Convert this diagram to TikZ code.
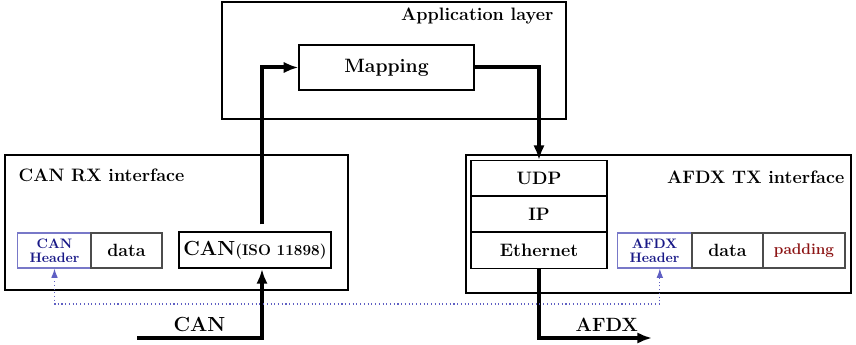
\documentclass[tikz,border=0pt]{standalone}
\usetikzlibrary{positioning, arrows.meta, calc}
\definecolor{hdrblue}{RGB}{25,25,135}
\definecolor{hdredge}{RGB}{120,120,200}
\definecolor{busblue}{RGB}{95,95,195}
\definecolor{padred}{RGB}{140,20,20}
\newcommand{\fsz}[1]{\fontsize{#1}{#1}\selectfont}
\begin{document}
\begin{tikzpicture}[
                x=0.75pt, y=-0.75pt,
                >={Latex[length=11pt,width=8.5pt]},
                font=\bfseries\fsz{13.5},
                area/.style={draw, line width=0.9pt, rectangle},
                stack/.style={draw, line width=1.1pt, rectangle, minimum width=102pt, minimum height=26.6pt, inner sep=0pt, font=\bfseries\fsz{13.5}},
                field/.style={draw=black!70, line width=0.8pt, rectangle, minimum height=26.25pt, inner sep=0pt, font=\bfseries\fsz{13.3}},
                header/.style={field, draw=hdredge, text=hdrblue, font=\bfseries\fontsize{10.3}{10.5}\selectfont, align=center, minimum width=55pt},
                flow/.style={line width=3pt},
                bus/.style={draw=busblue, dotted, line width=0.8pt, >={Latex[length=7pt,width=5pt]}},
            ]
                \useasboundingbox (0,0) rectangle (856,345);

                % Draw the application layer
                \node[area, minimum width=258pt, minimum height=87.75pt] (app) at (394,60.5) {};
                \node[anchor=east] (app-label) at (558,16) {Application layer};
                \node[area, minimum width=131.25pt, minimum height=33.75pt] (map) at (386.5,67.5) {\fsz{14.5}Mapping};

                % Draw the CAN receive side
                \node[area, minimum width=257.25pt, minimum height=101.25pt] (rx) at (176.5,222.5) {};
                \node[anchor=west] (rx-label) at (14,175) {CAN RX interface};
                \node[header] (can-hdr) at (54.5,250.5) {CAN\\Header};
                \node[field, minimum width=53.25pt] (can-data) at (126.5,250.5) {data};
                \node[draw, line width=1.6pt, minimum width=114pt, minimum height=27pt, inner sep=0pt] (can-iso) at (255,250)
                    {\fsz{15.3}CAN\fsz{11.5}(ISO 11898)};

                % Draw the AFDX transmit side
                \node[area, minimum width=288.75pt, minimum height=103.5pt] (tx) at (658.5,224) {};
                \node[anchor=east] (tx-label) at (849,177) {AFDX TX interface};
                \foreach \name / \txt / \y in {udp/UDP/178.5, ip/IP/214.5, eth/Ethernet/250.5}
                    \node[stack] (\name) at (539,\y) {\txt};
                \node[header] (afdx-hdr) at (654.5,250.5) {AFDX\\Header};
                \node[field, minimum width=53.25pt] (afdx-data) at (727.5,250.5) {data};
                \node[field, minimum width=61.5pt, text=padred, font=\bfseries\fsz{11.5}] (afdx-pad) at (804,250.5) {padding};

                % Free ends of the bus lines
                \coordinate (can-in) at (137,338);
                \coordinate (afdx-out) at (652,338);
                \coordinate (map-link) at (300,304);

                % Connect the layers
                \draw[flow, ->] ([xshift=5.25pt,yshift=5pt]can-iso.north) |- (map.west);
                \draw[flow, ->] (map.east) -| (udp.north);
                \draw[flow, ->] (can-in) -| node[pos=0.25, above, font=\bfseries\fsz{15.3}] {CAN} ([xshift=5.25pt]can-iso.south);
                \draw[flow, ->] (eth.south) |- node[pos=0.8, above, font=\bfseries\fsz{14.4}] {AFDX} (afdx-out);
                \draw[bus, <->] (can-hdr.south) |- (map-link) -| ([xshift=4pt]afdx-hdr.south);
            \end{tikzpicture}
\end{document}
